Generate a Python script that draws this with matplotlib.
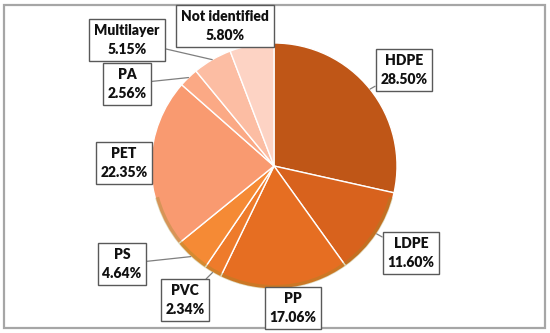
import numpy as np
import matplotlib
matplotlib.use("Agg")
import matplotlib.pyplot as plt
from matplotlib.patches import Rectangle, Wedge

labels = ["HDPE", "LDPE", "PP", "PVC", "PS", "PET", "PA", "Multilayer", "Not identified"]
values = [28.50, 11.60, 17.06, 2.34, 4.64, 22.35, 2.56, 5.15, 5.80]
colors = ["#BF5617", "#D8621D", "#E66E22", "#EE7B2B", "#F58A35",
          "#F99A70", "#FBA985", "#FCBDA3", "#FDD3C4"]
# label box centres in pixel coordinates (x, y from top)
label_pos = [(404, 70), (411, 253), (293, 308), (185, 300), (122, 264),
             (124, 163), (127, 84), (127, 40), (225, 26)]

W, H = 550, 333
fig = plt.figure(figsize=(W / 100, H / 100), dpi=100)
ax = fig.add_axes([0, 0, 1, 1])
ax.set_xlim(0, W)
ax.set_ylim(0, H)
ax.set_aspect("equal")
ax.axis("off")

cx, cy, r = 274, H - 166, 123

ax.add_patch(Rectangle((4, H - 328), 541, 323, fill=False, edgecolor="#A6A6A6", lw=1.6))

wedges, _ = ax.pie(values, colors=colors, startangle=90, counterclock=False,
                   center=(cx, cy), radius=r,
                   wedgeprops=dict(edgecolor="white", linewidth=1.0), frame=True)
ax.set_xlim(0, W)
ax.set_ylim(0, H)
ax.axis("off")

# subtle shading at lower rim
ax.add_patch(Wedge((cx, cy), r, -165, -15, width=4, facecolor="#9A8A2C", alpha=0.35, lw=0))

total = sum(values)
start = 90.0
for lab, v, (px, py) in zip(labels, values, label_pos):
    ang = start - v / total * 360 / 2
    start -= v / total * 360
    a = np.deg2rad(ang)
    anchor = (cx + r * np.cos(a), cy + r * np.sin(a))
    ax.annotate(f"{lab}\n{v:.2f}%", xy=anchor, xytext=(px, H - py),
                ha="center", va="center", fontsize=10, fontweight="heavy",
                family=["Lato", "DejaVu Sans"], linespacing=1.5, color="#111111",
                bbox=dict(boxstyle="square,pad=0.35", fc="white", ec="#595959", lw=1.0),
                arrowprops=dict(arrowstyle="-", color="#7F7F7F", lw=0.9,
                                shrinkA=0, shrinkB=0))

fig.savefig("out.png", dpi=100)
